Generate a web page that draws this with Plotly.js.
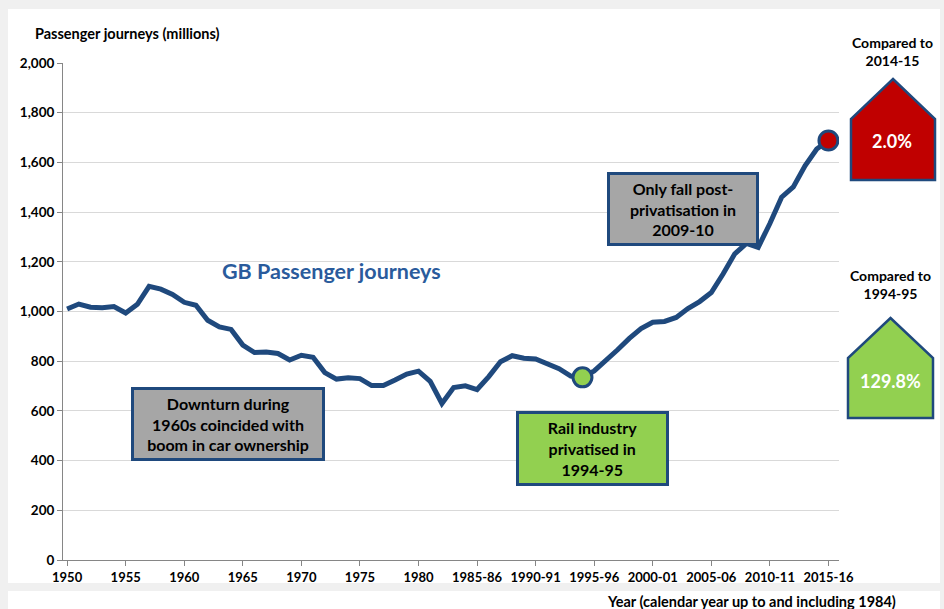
<!DOCTYPE html>
<html>
<head>
<meta charset="utf-8">
<script src="https://cdn.plot.ly/plotly-3.0.1.min.js"></script>
<style>html,body{margin:0;padding:0;background:#f0f0f0;}#chart{width:944px;height:609px;}</style>
</head>
<body>
<div id="chart"></div>
<script>
const categories = ["1950","1951","1952","1953","1954","1955","1956","1957","1958","1959",
  "1960","1961","1962","1963","1964","1965","1966","1967","1968","1969",
  "1970","1971","1972","1973","1974","1975","1976","1977","1978","1979",
  "1980","1981","1982","1983","1984",
  "1985-86","1986-87","1987-88","1988-89","1989-90","1990-91","1991-92","1992-93","1993-94","1994-95",
  "1995-96","1996-97","1997-98","1998-99","1999-00","2000-01","2001-02","2002-03","2003-04","2004-05",
  "2005-06","2006-07","2007-08","2008-09","2009-10","2010-11","2011-12","2012-13","2013-14","2014-15","2015-16"];
const journeys = [1010,1030,1017,1015,1020,994,1029,1101,1090,1069,
  1037,1025,965,938,928,865,835,837,831,805,
  824,816,754,728,733,730,702,702,724,748,
  760,719,630,694,701,
  686,738,798,822,812,809,792,770,740,735,
  761,801,846,892,931,957,960,976,1012,1040,
  1076,1151,1232,1274,1258,1354,1460,1501,1586,1654,1688];
const tickLabels = ["1950","1955","1960","1965","1970","1975","1980","1985-86","1990-91","1995-96","2000-01","2005-06","2010-11","2015-16"];
const yTickVals = [0,200,400,600,800,1000,1200,1400,1600,1800,2000];
const privatisedYear = "1994-95";
const latestYear = "2015-16";
const changeVsPrev = "2.0%";
const changeVsPriv = "129.8%";

const idx = categories.map((c,i)=>i);
const tickVals = tickLabels.map(t=>categories.indexOf(t));
const iPriv = categories.indexOf(privatisedYear);
const iLast = categories.indexOf(latestYear);

// pixel -> paper helpers (plot area: x 63..839, y 63..560)
const L=63, R=839, T=63, B=560;
const px = x => (x-L)/(R-L);
const py = y => (B-y)/(B-T);

const FONT = "Lato, 'Open Sans', sans-serif";
const BLUE = "#1f497d";

function house(x0,x1,yApex,yShoulder,yBottom,fill){
  const xm=(x0+x1)/2;
  return {type:"path", xref:"paper", yref:"paper",
    path:`M ${px(xm)} ${py(yApex)} L ${px(x1)} ${py(yShoulder)} L ${px(x1)} ${py(yBottom)} L ${px(x0)} ${py(yBottom)} L ${px(x0)} ${py(yShoulder)} Z`,
    fillcolor:fill, line:{color:BLUE,width:2.5}};
}

const traces = [
  {x:idx, y:journeys, type:"scatter", mode:"lines", line:{color:BLUE,width:5}, hoverinfo:"skip", showlegend:false},
  {x:[iPriv], y:[journeys[iPriv]], type:"scatter", mode:"markers",
   marker:{size:19,color:"#92d050",line:{color:BLUE,width:3}}, showlegend:false},
  {x:[iLast], y:[journeys[iLast]], type:"scatter", mode:"markers",
   marker:{size:19,color:"#c00000",line:{color:BLUE,width:3}}, showlegend:false}
];

const boxFont = {family:FONT, size:16, color:"#000", weight:"bold"};
const smallBold = {family:FONT, size:14, color:"#000", weight:"bold"};
const layout = {
  width:944, height:609,
  paper_bgcolor:"#f0f0f0", plot_bgcolor:"rgba(0,0,0,0)",
  margin:{l:L, r:944-R, t:T, b:609-B},
  showlegend:false,
  xaxis:{range:[-0.35,65.9], tickvals:tickVals, ticktext:tickLabels, showgrid:false,
    showline:true, linecolor:"#868686", linewidth:1, ticks:"outside", ticklen:5, tickcolor:"#868686",
    tickfont:{family:FONT, size:13, color:"#000", weight:"bold"}, zeroline:false, fixedrange:true},
  yaxis:{range:[0,2000], tickvals:yTickVals, tickformat:",d", showgrid:true, gridcolor:"#d9d9d9", gridwidth:1,
    showline:true, linecolor:"#868686", linewidth:1, ticks:"outside", ticklen:5, tickcolor:"#868686",
    tickfont:{family:FONT, size:13.5, color:"#000", weight:"bold"}, zeroline:false, fixedrange:true},
  shapes:[
    {type:"rect", xref:"paper", yref:"paper", x0:px(8), x1:px(940), y0:py(583), y1:py(9), fillcolor:"#ffffff", line:{width:0}, layer:"below"},
    {type:"rect", xref:"paper", yref:"paper", x0:px(8), x1:px(940), y0:py(609), y1:py(591), fillcolor:"#ffffff", line:{width:0}, layer:"below"},
    house(851,935,79,119,180,"#c00000"),
    house(848,933,318,358,418,"#92d050")
  ],
  annotations:[
    {xref:"paper", yref:"paper", x:px(33), y:py(33), xanchor:"left", yanchor:"middle", showarrow:false,
     text:"Passenger journeys (millions)", font:{family:FONT, size:14.5, color:"#000", weight:"bold"}},
    {xref:"paper", yref:"paper", x:px(898), y:py(601), xanchor:"right", yanchor:"middle", showarrow:false,
     text:"Year (calendar year up to and including 1984)", font:{family:FONT, size:14.5, color:"#000", weight:"bold"}},
    {xref:"paper", yref:"paper", x:px(331), y:py(271), xanchor:"center", yanchor:"middle", showarrow:false,
     text:"GB Passenger journeys", font:{family:FONT, size:21.5, color:"#2a5b9c", weight:"bold"}},
    {xref:"paper", yref:"paper", x:px(228), y:py(424), xanchor:"center", yanchor:"middle", showarrow:false,
     text:"Downturn during<br>1960s coincided with<br>boom in car ownership", font:boxFont,
     bgcolor:"#a6a6a6", bordercolor:BLUE, borderwidth:3, borderpad:2, width:184, height:64},
    {xref:"paper", yref:"paper", x:px(592), y:py(448), xanchor:"center", yanchor:"middle", showarrow:false,
     text:"Rail industry<br>privatised in<br>1994-95", font:boxFont,
     bgcolor:"#92d050", bordercolor:BLUE, borderwidth:3, borderpad:2, width:143, height:65},
    {xref:"paper", yref:"paper", x:px(683), y:py(209), xanchor:"center", yanchor:"middle", showarrow:false,
     text:"Only fall post-<br>privatisation in<br>2009-10", font:boxFont,
     bgcolor:"#a6a6a6", bordercolor:BLUE, borderwidth:3, borderpad:2, width:142, height:64},
    {xref:"paper", yref:"paper", x:px(892), y:py(51), xanchor:"center", yanchor:"middle", showarrow:false,
     text:"Compared to<br>2014-15", font:smallBold},
    {xref:"paper", yref:"paper", x:px(892), y:py(141), xanchor:"center", yanchor:"middle", showarrow:false,
     text:changeVsPrev, font:{family:FONT, size:18, color:"#fff", weight:"bold"}},
    {xref:"paper", yref:"paper", x:px(890), y:py(284), xanchor:"center", yanchor:"middle", showarrow:false,
     text:"Compared to<br>1994-95", font:smallBold},
    {xref:"paper", yref:"paper", x:px(890), y:py(381), xanchor:"center", yanchor:"middle", showarrow:false,
     text:changeVsPriv, font:{family:FONT, size:18, color:"#fff", weight:"bold"}}
  ]
};
Plotly.newPlot("chart", traces, layout, {displayModeBar:false, staticPlot:true});
</script>
</body>
</html>
